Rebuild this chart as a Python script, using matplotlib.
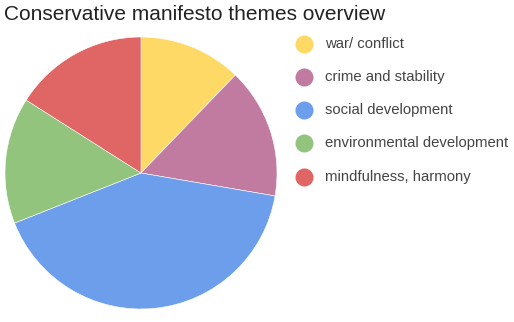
import matplotlib.pyplot as plt

# themes and their share
themes = ['war/ conflict', 'crime and stability', 'social development',
          'environmental development', 'mindfulness, harmony']
shares = [12.2, 15.5, 41.3, 15.0, 16.0]
colors = ['#ffd966', '#c27ba0', '#6d9eeb', '#93c47d', '#e06666']

plt.rcParams['font.family'] = ['Liberation Sans', 'DejaVu Sans']

W, H = 514, 322
fig = plt.figure(figsize=(W / 100, H / 100), dpi=100)

# pie area: centre (141, 173), radius 136 px
cx, cy, r = 141, 173, 136
ax = fig.add_axes([(cx - r) / W, (H - cy - r) / H, 2 * r / W, 2 * r / H])
ax.pie(shares, colors=colors, startangle=90, counterclock=False, radius=1,
       wedgeprops=dict(edgecolor='white', linewidth=0.4))
ax.set_xlim(-1, 1)
ax.set_ylim(-1, 1)
ax.set_aspect('equal')
ax.axis('off')

fig.text(4 / W, 1 - 14 / H, 'Conservative manifesto themes overview',
         fontsize=15, color='#222222', va='center', ha='left')

# legend, drawn by hand
for i, (name, c) in enumerate(zip(themes, colors)):
    y = 1 - (43.5 + i * 33.3) / H
    fig.add_artist(plt.Line2D([304 / W], [y], marker='o', markersize=13,
                              color=c, markeredgewidth=0,
                              transform=fig.transFigure))
    fig.text(325 / W, y, name, fontsize=10.7, color='#444444',
             va='center', ha='left')

fig.savefig('out.png', dpi=100)
